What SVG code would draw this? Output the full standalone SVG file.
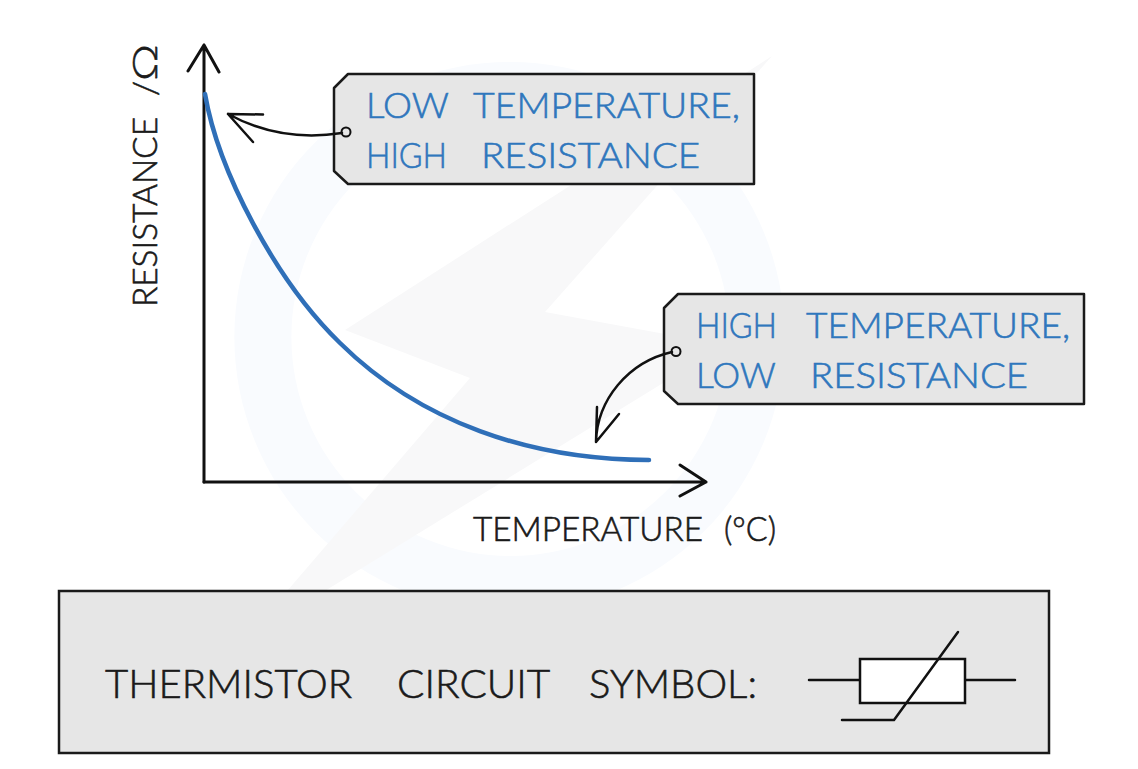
<svg xmlns="http://www.w3.org/2000/svg" width="1138" height="769" viewBox="0 0 1138 769">
<style>
.ax{fill:none;stroke:#111;stroke-width:3;stroke-linecap:round;stroke-linejoin:round}
.thin{fill:none;stroke:#111;stroke-width:2.5;stroke-linecap:round;stroke-linejoin:round}
.tag{fill:#e6e6e6;stroke:#1a1a1a;stroke-width:2.5;stroke-linejoin:round}
text{font-family:"Lato","Noto Sans",sans-serif;font-weight:300;stroke-width:0.6px}
.bt{font-size:36px;fill:#2f77bd;stroke:#2f77bd}
.kt{font-size:33px;fill:#1a1a1a;stroke:#1a1a1a}
.big{font-size:40px;fill:#1a1a1a;stroke:#1a1a1a}
.wm{fill:#f9fbfe}
.wg{fill:#f8f8f9}
</style>
<rect width="1138" height="769" fill="#fff"/>
<g id="watermark">
<path class="wm" fill-rule="evenodd" d="M510 62A275 275 0 1 1 509 612A275 275 0 1 1 510 62ZM510 118A219 219 0 1 0 511 556A219 219 0 1 0 510 118Z"/>
<path class="wg" d="M772 56L345 330L470 378L245 640L725 345L545 312Z"/>
</g>
<g id="axes">
<path class="ax" d="M204 482V45M204 45L188 71M204 45L219 72"/>
<path class="ax" d="M204 482H706M680 465L706 482L680 496"/>
</g>
<g id="curve">
<path d="M205 94C218 170 275 280 340 343C420 422 530 460 649 460" fill="none" stroke="#2f6fb8" stroke-width="4.5" stroke-linecap="round"/>
</g>
<g id="tag-low">
<path class="tag" d="M348 74H754V184H348L334 171V88Z"/>
<text class="bt" y="118"><tspan x="366" textLength="82" lengthAdjust="spacingAndGlyphs">LOW</tspan> <tspan x="473" textLength="267" lengthAdjust="spacingAndGlyphs">TEMPERATURE,</tspan></text>
<text class="bt" y="168"><tspan x="366" textLength="81" lengthAdjust="spacingAndGlyphs">HIGH</tspan> <tspan x="481" textLength="219" lengthAdjust="spacingAndGlyphs">RESISTANCE</tspan></text>
<circle cx="346" cy="132" r="4.5" fill="none" stroke="#111" stroke-width="2"/>
</g>
<g id="tag-high">
<path class="tag" d="M678 294H1084V404H678L664 391V308Z"/>
<text class="bt" y="338"><tspan x="696" textLength="81" lengthAdjust="spacingAndGlyphs">HIGH</tspan> <tspan x="806" textLength="264" lengthAdjust="spacingAndGlyphs">TEMPERATURE,</tspan></text>
<text class="bt" y="388"><tspan x="696" textLength="79" lengthAdjust="spacingAndGlyphs">LOW</tspan> <tspan x="810" textLength="218" lengthAdjust="spacingAndGlyphs">RESISTANCE</tspan></text>
<circle cx="676" cy="351.5" r="4.5" fill="none" stroke="#111" stroke-width="2"/>
</g>
<g id="connectors">
<path class="thin" d="M342 133C310 138 270 137 228 114M228 114L263 114.500M228 114L253 142"/>
<path class="thin" d="M672 352C628 362 597 400 596 442M596 442L597 407M596 442L619 414"/>
</g>
<g id="labels">
<text class="kt" transform="translate(157 307) rotate(-90)"><tspan x="0" textLength="190" lengthAdjust="spacingAndGlyphs">RESISTANCE</tspan> <tspan x="211" textLength="15" lengthAdjust="spacingAndGlyphs">/</tspan><tspan x="226" textLength="37" lengthAdjust="spacingAndGlyphs">Ω</tspan></text>
<text class="kt" y="541"><tspan x="473" textLength="230" lengthAdjust="spacingAndGlyphs">TEMPERATURE</tspan> <tspan x="724" textLength="52" lengthAdjust="spacingAndGlyphs">(°C)</tspan></text>
</g>
<g id="symbol-panel">
<rect x="59" y="591" width="990" height="162" fill="#e6e6e6" stroke="#1a1a1a" stroke-width="2.500"/>
<text class="big" y="698"><tspan x="105" textLength="247" lengthAdjust="spacingAndGlyphs">THERMISTOR</tspan> <tspan x="397" textLength="152" lengthAdjust="spacingAndGlyphs">CIRCUIT</tspan> <tspan x="589" textLength="168" lengthAdjust="spacingAndGlyphs">SYMBOL:</tspan></text>
<path class="thin" d="M809 680H860M966 680H1015"/>
<rect x="860" y="659" width="105" height="44" fill="#fff" stroke="#111" stroke-width="2.500"/>
<path class="thin" d="M842 720H894L958 632"/>
</g>
</svg>
